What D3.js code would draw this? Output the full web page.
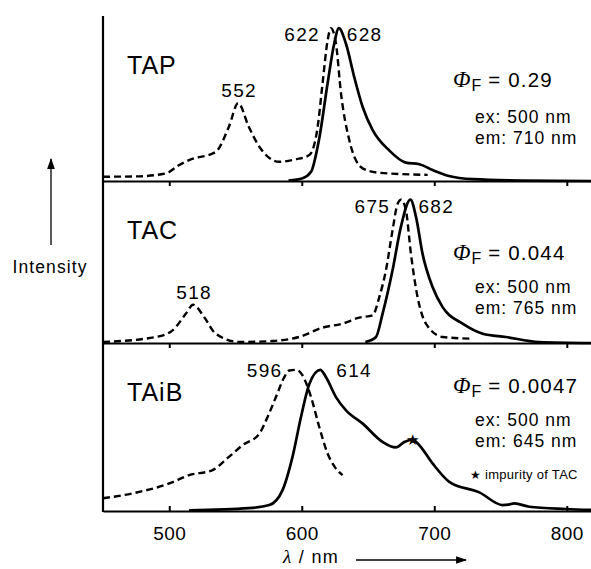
<!DOCTYPE html>
<html>
<head>
<meta charset="utf-8">
<script src="https://cdn.jsdelivr.net/npm/d3@7"></script>
<style>
  body { margin: 0; background: #fff; }
  svg { display: block; font-family: "Liberation Sans", Arial, sans-serif; }
</style>
</head>
<body>
<svg id="chart" width="591" height="569"></svg>
<script>

// panel names and annotation values
var compounds = ["TAP", "TAC", "TAiB"];
var quantumYields = ["0.29", "0.044", "0.0047"];
var exWavelengths = ["500", "500", "500"];
var emWavelengths = ["710", "765", "645"];
var xTicks = [500, 600, 700, 800];

// peak labels: [wavelength, label, side]
var peakLabels = [
  [[552, "552", "mid"], [622, "622", "left"], [628, "628", "right"]],
  [[518, "518", "mid"], [675, "675", "left"], [682, "682", "right"]],
  [[596, "596", "left"], [614, "614", "right"]]
];

// normalised spectra, [wavelength nm, intensity]
var tapEx = [[450,0.028],[475,0.03],[497.5,0.05],[507.5,0.105],[515,0.137],[535,0.19],[545,0.355],[552,0.51],
  [560,0.355],[568,0.224],[583,0.126],[595.6,0.142],[605.7,0.17],[612,0.355],[615.7,0.64],[619.5,0.92],
  [622,1.0],[625.8,0.9],[629.6,0.573],[635.8,0.27],[645.9,0.083],[658.5,0.054],[695,0.04]];
var tapEm = [[590,0.003],[600.6,0.018],[607,0.06],[613,0.27],[619.5,0.64],[624.5,0.9],[628,1.0],[633.3,0.9],
  [639.6,0.68],[645.9,0.486],[653.5,0.333],[666,0.2],[678.6,0.12],[688.7,0.11],[698.7,0.072],[711,0.033],
  [729,0.012],[766,0.003],[820,0]];
var tacEx = [[450,0.007],[490,0.042],[502.5,0.088],[512.6,0.205],[518,0.267],[526.4,0.18],[535,0.065],[553,0.007],
  [578,0.014],[598,0.042],[615.7,0.107],[630.8,0.135],[643.4,0.177],[653.5,0.193],[658.5,0.32],[663.5,0.507],
  [668.5,0.786],[672.3,0.97],[675,1.0],[678.6,0.926],[682.4,0.62],[687.4,0.32],[693.7,0.135],[706.3,0.042],[729,0.03]];
var tacEm = [[648,0.007],[656,0.042],[661,0.205],[668.5,0.507],[674.8,0.81],[682,1.0],[686.2,0.88],[691.2,0.62],
  [698.7,0.39],[706.3,0.25],[721.4,0.135],[736.5,0.065],[754,0.042],[779,0.007],[820,0]];
var taibEx = [[450,0.09],[472.3,0.125],[500,0.195],[515,0.254],[532.7,0.29],[545,0.383],[555.3,0.466],[568,0.548],
  [574.2,0.666],[580.5,0.807],[586.8,0.948],[590.6,0.995],[596,1.0],[600.6,0.96],[607,0.807],[613.2,0.595],
  [619.5,0.407],[625.8,0.3],[630.8,0.254]];
var taibEm = [[515,0.005],[560,0.02],[575.5,0.042],[585.5,0.148],[593,0.383],[599.4,0.666],[605.7,0.9],[614,1.0],
  [618.3,0.948],[625.8,0.807],[633.4,0.713],[646,0.619],[661,0.489],[671,0.45],[677.4,0.489],[683.6,0.506],
  [688.7,0.466],[698.7,0.337],[711.3,0.207],[734,0.132],[751.6,0.042],[756,0.045],[760.4,0.054],[771.7,0.03],
  [799.4,0.014],[820,0.007]];
var impurityPoint = [683.6, 0.506];

var spectra = [[tapEx, tapEm], [tacEx, tacEm], [taibEx, taibEm]];

var svg = d3.select("#chart");

var x = d3.scaleLinear().domain([450, 820]).range([103, 593.3]);

// panel geometry: top and baseline of each strip
var panels = [
  {top: 16, bottom: 181, yMax: 1.08},
  {top: 181, bottom: 343, yMax: 1.13},
  {top: 343, bottom: 511, yMax: 1.19}
];

var line = d3.line().curve(d3.curveMonotoneX);

panels.forEach(function(p, i) {
  var y = d3.scaleLinear().domain([0, p.yMax]).range([p.bottom, p.top]);
  var g = svg.append("g");
  line.x(function(d) { return x(d[0]); }).y(function(d) { return y(d[1]); });

  // dashed = excitation, solid = emission
  g.append("path")
    .attr("d", line(spectra[i][0]))
    .attr("fill", "none").attr("stroke", "#000")
    .attr("stroke-width", 2.4).attr("stroke-dasharray", "7,4");
  g.append("path")
    .attr("d", line(spectra[i][1]))
    .attr("fill", "none").attr("stroke", "#000")
    .attr("stroke-width", 2.7).attr("stroke-linejoin", "round");

  // baseline with ticks
  var ax;
  if (i < 2) {
    ax = d3.axisBottom(x).tickValues(xTicks).tickSize(5).tickSizeOuter(0).tickFormat("");
  } else {
    ax = d3.axisBottom(x).tickValues(xTicks).tickSizeInner(-5).tickSizeOuter(0).tickPadding(16);
  }
  var axg = g.append("g").attr("transform", "translate(0," + p.bottom + ")").call(ax);
  axg.select(".domain").attr("stroke-width", 2.2);
  axg.selectAll(".tick line").attr("stroke-width", 2);
  axg.selectAll("text").attr("font-size", 19).attr("fill", "#000")
    .attr("letter-spacing", 0.4)
    .attr("font-family", "Liberation Sans, Arial, sans-serif");

  // compound name
  g.append("text").attr("x", 127).attr("y", p.top + 58)
    .attr("font-size", 25).attr("letter-spacing", 1).text(compounds[i]);

  // peak labels
  peakLabels[i].forEach(function(l) {
    var pk = spectra[i].map(function(s) {
      return d3.max(s, function(d) { return Math.abs(d[0] - l[0]) < 3 ? d[1] : 0; });
    });
    var h = d3.max(pk);
    var t = g.append("text").attr("font-size", 19).attr("letter-spacing", 1.3).text(l[1]);
    if (l[2] === "mid") {
      t.attr("x", x(l[0]) + 1).attr("y", y(h) - 6).attr("text-anchor", "middle");
    } else if (l[2] === "left") {
      t.attr("x", x(l[0]) - 11).attr("y", y(h) + 13).attr("text-anchor", "end");
    } else {
      t.attr("x", x(l[0]) + 8).attr("y", y(h) + 13).attr("text-anchor", "start");
    }
  });
});

// fix label offsets for TAiB (peaks are broader)
svg.selectAll("text").filter(function() { return this.textContent === "596" || this.textContent === "614"; })
  .attr("y", 377);
svg.selectAll("text").filter(function() { return this.textContent === "596"; })
  .attr("x", x(596) - 14);
svg.selectAll("text").filter(function() { return this.textContent === "614"; })
  .attr("x", x(614) + 16);

// quantum yield and wavelengths
var phiY = [87, 260, 393];
var exY = [123, 293, 426];
phiY.forEach(function(py, i) {
  var t = svg.append("text").attr("x", 453).attr("y", py).attr("font-size", 20.5);
  t.append("tspan").attr("font-family", "Liberation Serif, Times New Roman, serif")
    .attr("font-style", "italic").attr("font-size", 23).text("\u03A6");
  t.append("tspan").attr("font-size", 16).attr("dy", 4).attr("dx", 1).text("F");
  t.append("tspan").attr("dy", -4).attr("letter-spacing", 1.2).text(" = " + quantumYields[i]);

  svg.append("text").attr("x", 475).attr("y", exY[i]).attr("font-size", 17.5).attr("letter-spacing", 1)
    .text("ex: " + exWavelengths[i] + " nm");
  svg.append("text").attr("x", 475).attr("y", exY[i] + 21).attr("font-size", 17.5).attr("letter-spacing", 1)
    .text("em: " + emWavelengths[i] + " nm");
});

// impurity marker
var yB = d3.scaleLinear().domain([0, panels[2].yMax]).range([panels[2].bottom, panels[2].top]);
svg.append("text").attr("x", x(impurityPoint[0])).attr("y", yB(impurityPoint[1]) + 5)
  .attr("text-anchor", "middle").attr("font-size", 15).text("\u2605");
var imp = svg.append("text").attr("x", 470).attr("y", 479).attr("font-size", 13).attr("letter-spacing", 0.3);
imp.append("tspan").text("\u2605 ").attr("font-size", 12);
imp.append("tspan").text("impurity of TAC");

// left axis
svg.append("line").attr("x1", 103).attr("x2", 103).attr("y1", 16).attr("y2", 512)
  .attr("stroke", "#000").attr("stroke-width", 2.2);

// intensity arrow
svg.append("defs").append("marker").attr("id", "ah")
  .attr("viewBox", "0 0 10 10").attr("refX", 9).attr("refY", 5)
  .attr("markerWidth", 11).attr("markerHeight", 11).attr("markerUnits", "userSpaceOnUse")
  .attr("orient", "auto")
  .append("path").attr("d", "M0,1.5L10,5L0,8.5z").attr("fill", "#000");
svg.append("line").attr("x1", 51).attr("x2", 51).attr("y1", 245).attr("y2", 159)
  .attr("stroke", "#000").attr("stroke-width", 1.3).attr("marker-end", "url(#ah)");
svg.append("text").attr("x", 50).attr("y", 273).attr("text-anchor", "middle")
  .attr("font-size", 17.5).attr("letter-spacing", 1.1).text("Intensity");

// x label with arrow
var xl = svg.append("text").attr("x", 283).attr("y", 563).attr("font-size", 18).attr("letter-spacing", 1.3);
xl.append("tspan").attr("font-family", "Liberation Serif, Times New Roman, serif")
  .attr("font-style", "italic").attr("font-size", 19).text("\u03BB");
xl.append("tspan").text(" / nm");
svg.append("line").attr("x1", 356).attr("x2", 466).attr("y1", 560).attr("y2", 560)
  .attr("stroke", "#000").attr("stroke-width", 1.3).attr("marker-end", "url(#ah)");

</script>
</body>
</html>
